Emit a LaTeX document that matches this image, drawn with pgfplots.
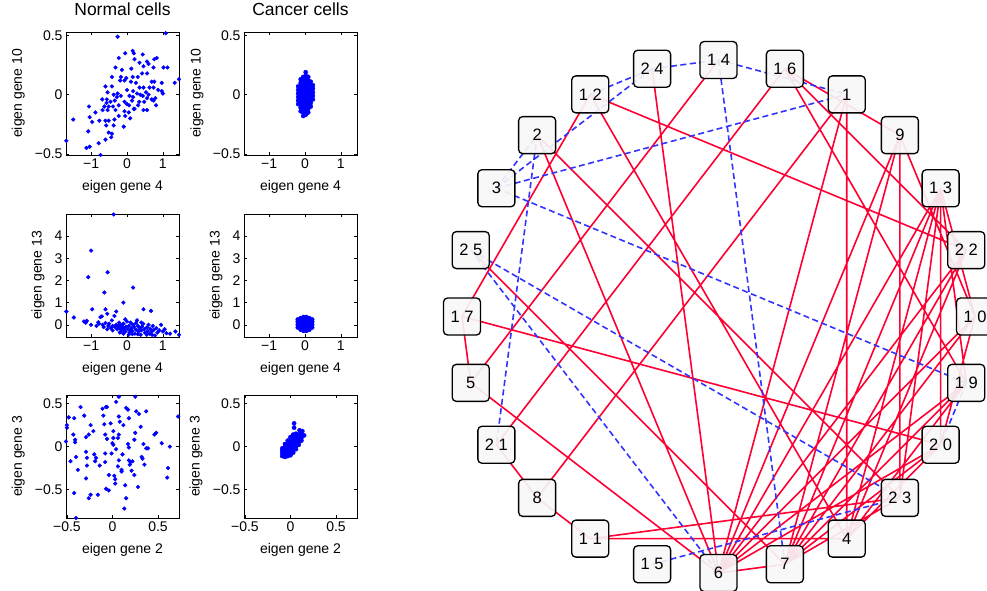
\documentclass[border=0pt]{standalone}
\usepackage{fontspec}
\setmainfont{Liberation Sans}
\usepackage{pgfplots}
\usepackage{pgfplotstable}
\pgfplotsset{compat=1.18}
\definecolor{redE}{RGB}{255,0,51}
\definecolor{blueE}{RGB}{51,51,255}
\definecolor{dotblue}{RGB}{0,0,255}
\pgfplotsset{
  sc/.style={
    scale only axis, width=113pt, height=123pt,
    axis line style={line width=0.8pt},
    tick style={black, line width=0.6pt},
    major tick length=3pt,
    tick align=inside,
    tick label style={font=\fontsize{14}{14}\selectfont},
    label style={font=\fontsize{14}{14}\selectfont},
    xlabel style={at={(axis description cs:0.5,-0.258)}, anchor=center},
    title style={font=\fontsize{17.5}{18}\selectfont, at={(axis description cs:0.5,1.138)}, anchor=center},
  },
  rowA/.style={sc, xmin=-1.7, xmax=1.45, ymin=-0.51, ymax=0.53,
    xtick={-1,0,1}, xticklabels={−1,0,1}, ytick={-0.5,0,0.5}, yticklabels={−0.5,0,0.5},
    xlabel={eigen gene 4}, ylabel={eigen gene 10}},
  rowB/.style={sc, xmin=-1.7, xmax=1.45, ymin=-0.55, ymax=5.0,
    xtick={-1,0,1}, xticklabels={−1,0,1}, ytick={0,1,2,3,4}, yticklabels={0,1,2,3,4},
    xlabel={eigen gene 4}, ylabel={eigen gene 13}},
  rowC/.style={sc, xmin=-0.51, xmax=0.73, ymin=-0.83, ymax=0.6,
    xtick={-0.5,0,0.5}, xticklabels={−0.5,0,0.5}, ytick={-0.5,0,0.5}, yticklabels={−0.5,0,0.5},
    xlabel={eigen gene 2}, ylabel={eigen gene 3}},
  dots/.style={only marks, mark=*, mark size=1.9pt, color=dotblue},
  blob/.style={only marks, mark=*, mark size=2.1pt, color=dotblue},
}

\pgfplotstableread{
x y
-0.26 0.49
1.08 0.52
-0.05 0.35
0.19 0.35
0.16 0.37
0.44 0.34
-0.23 0.31
0.21 0.30
0.35 0.27
0.56 0.28
0.60 0.26
0.76 0.30
0.83 0.31
-0.32 0.23
-0.14 0.21
0.12 0.22
0.46 0.24
0.74 0.23
1.02 0.23
1.13 0.23
-0.42 0.15
-0.17 0.15
-0.02 0.14
0.16 0.15
0.30 0.15
0.42 0.18
0.56 0.18
0.69 0.11
0.76 0.11
0.97 0.10
1.33 0.10
1.45 0.13
-0.60 0.07
-0.42 0.07
-0.19 0.12
-0.07 0.12
0.11 0.11
0.25 0.10
0.35 0.06
0.46 0.06
0.63 0.06
0.74 0.06
0.87 0.04
-0.54 0.02
-0.37 0.00
-0.26 0.01
0.00 0.04
0.17 0.03
0.28 0.01
0.37 0.00
0.53 0.02
0.60 0.00
0.97 0.03
1.00 0.01
-0.69 -0.04
-0.56 -0.04
-0.28 -0.02
-0.17 -0.01
0.07 -0.01
0.17 -0.02
0.44 -0.01
0.56 -0.03
0.69 -0.04
0.79 -0.03
-0.57 -0.07
-0.46 -0.06
-0.34 -0.05
-0.07 -0.06
0.00 -0.08
0.14 -0.05
0.34 -0.06
0.48 -0.06
0.74 -0.05
-1.06 -0.10
-0.63 -0.10
-0.51 -0.10
-0.39 -0.10
-0.23 -0.09
0.06 -0.09
0.21 -0.12
0.31 -0.09
0.46 -0.13
0.56 -0.13
0.81 -0.09
-0.88 -0.15
-0.68 -0.13
-0.54 -0.13
-0.32 -0.13
-0.07 -0.14
0.05 -0.15
0.19 -0.12
-1.50 -0.21
-1.04 -0.19
-0.97 -0.23
-0.77 -0.22
-0.60 -0.22
-0.51 -0.22
-0.35 -0.21
-0.05 -0.18
0.09 -0.20
-0.23 -0.18
-1.08 -0.31
-0.58 -0.26
-0.37 -0.26
-0.09 -0.27
-0.51 -0.32
-0.42 -0.33
-0.44 -0.36
-1.69 -0.39
-0.79 -0.41
-0.60 -0.38
-1.13 -0.45
-1.04 -0.44
-0.74 -0.51
}\normA

\pgfplotstableread{
x y
-0.37 4.98
-1.00 3.35
-1.08 2.15
-0.54 2.37
-0.63 1.46
0.17 1.68
-0.10 1.00
-1.69 0.60
-1.48 0.33
-0.97 0.70
-0.60 0.70
-0.30 0.60
0.46 0.70
0.67 0.63
-1.20 0.15
-1.15 0.10
-1.12 0.18
-1.00 0.00
-0.80 0.12
-0.78 0.05
-0.74 0.35
-0.70 0.38
-0.68 0.00
-0.65 -0.10
-0.60 0.08
-0.55 0.50
-0.52 -0.05
-0.50 0.05
-0.45 -0.15
-0.42 0.20
-0.40 -0.05
-0.35 0.40
-0.33 -0.10
-0.30 0.00
-0.27 -0.20
-0.25 -0.05
-0.22 0.10
-0.20 -0.15
-0.17 -0.02
-0.15 -0.25
-0.12 -0.10
-0.10 0.05
-0.08 -0.18
-0.05 -0.30
-0.03 -0.08
0.00 0.15
0.02 -0.20
0.05 -0.05
0.07 -0.35
0.10 0.10
0.12 -0.15
0.15 -0.28
0.17 0.00
0.20 -0.10
0.22 -0.40
0.25 -0.22
0.28 0.20
0.30 -0.05
0.32 -0.30
0.35 -0.15
0.38 -0.45
0.40 -0.25
0.42 -0.08
0.45 0.05
0.48 -0.20
0.50 -0.35
0.55 -0.12
0.58 -0.28
0.60 0.00
0.63 -0.40
0.65 -0.18
0.70 -0.30
0.72 -0.05
0.75 -0.22
0.78 -0.48
0.82 -0.15
0.85 -0.35
0.90 -0.25
0.95 0.00
1.00 -0.30
1.05 -0.20
1.10 -0.38
1.20 -0.40
1.35 -0.30
1.45 -0.45
-0.20 -0.35
-0.10 -0.40
0.05 -0.45
0.15 -0.42
0.30 -0.42
0.55 -0.45
0.70 -0.45
-0.40 -0.25
-0.55 -0.20
-0.85 -0.05
0.40 0.10
0.10 -0.25
-0.05 0.25
0.25 0.08
}\normB

\pgfplotstableread{
x y
-0.51 0.06
-0.50 0.22
-0.50 0.25
-0.48 0.34
-0.42 0.33
-0.46 -0.17
-0.43 0.14
-0.41 0.08
-0.41 0.05
-0.40 -0.12
-0.38 -0.27
-0.35 0.46
-0.42 -0.54
-0.40 -0.83
-0.31 0.36
-0.29 0.11
-0.29 -0.06
-0.28 -0.13
-0.29 -0.37
-0.28 -0.22
-0.26 0.14
-0.24 0.25
-0.26 -0.60
-0.24 -0.56
-0.21 0.18
-0.20 -0.09
-0.19 -0.17
-0.18 -0.13
-0.16 -0.56
-0.14 -0.22
-0.11 0.44
-0.10 0.36
-0.09 0.26
-0.08 0.14
-0.08 -0.08
-0.08 -0.18
-0.07 0.46
-0.06 0.46
-0.07 -0.49
-0.06 0.09
-0.04 -0.33
-0.04 -0.51
-0.02 0.27
-0.01 -0.08
0.00 0.04
0.01 0.18
0.01 0.02
0.01 0.10
0.02 -0.34
0.03 -0.38
0.03 -0.43
0.04 0.52
0.04 -0.03
0.06 -0.23
0.07 0.58
0.06 0.10
0.07 0.35
0.07 0.14
0.07 -0.16
0.08 0.29
0.10 -0.27
0.10 -0.29
0.11 -0.09
0.12 0.25
0.13 -0.72
0.14 -0.45
0.15 -0.60
0.15 0.45
0.17 0.03
0.17 0.43
0.18 -0.01
0.18 -0.16
0.18 0.33
0.19 -0.21
0.20 -0.18
0.21 -0.28
0.22 -0.17
0.24 0.08
0.24 -0.33
0.25 0.16
0.26 0.41
0.28 -0.47
0.29 0.38
0.31 0.23
0.32 -0.12
0.33 -0.14
0.34 0.03
0.35 -0.21
0.37 0.41
0.37 -0.02
0.39 -0.02
0.46 0.14
0.48 0.16
0.54 0.04
0.61 -0.25
0.60 -0.36
0.63 0.00
0.72 0.35
0.25 0.58
}\normC

\pgfplotstableread{
x y lab
0 1 {1 4}
0.2588 0.9659 {1 6}
0.5 0.8660 1
0.7071 0.7071 9
0.8660 0.5 {1 3}
0.9659 0.2588 {2 2}
1 0 {1 0}
0.9659 -0.2588 {1 9}
0.8660 -0.5 {2 0}
0.7071 -0.7071 {2 3}
0.5 -0.8660 4
0.2588 -0.9659 7
0 -1 6
-0.2588 -0.9659 {1 5}
-0.5 -0.8660 {1 1}
-0.7071 -0.7071 8
-0.8660 -0.5 {2 1}
-0.9659 -0.2588 5
-1 0 {1 7}
-0.9659 0.2588 {2 5}
-0.8660 0.5 3
-0.7071 0.7071 2
-0.5 0.8660 {1 2}
-0.2588 0.9659 {2 4}
}\nodetab

\begin{document}
\begin{tikzpicture}
\path[use as bounding box] (0,0) rectangle (987pt,590pt);

% Row 1
\begin{axis}[rowA, at={(66pt,558pt)}, anchor=north west, title={Normal cells},
  ylabel style={at={(axis description cs:-0.422,0.5)}, anchor=center}]
\addplot[dots] table {\normA};
\end{axis}
\begin{axis}[rowA, at={(244pt,558pt)}, anchor=north west, title={Cancer cells},
  ylabel style={at={(axis description cs:-0.416,0.5)}, anchor=center}]
\addplot[blob] coordinates {
(-0.19,-0.08)(-0.19,-0.05)(-0.19,-0.02)(-0.19,0.01)(-0.19,0.04)(-0.19,0.07)
(-0.12,-0.14)(-0.12,-0.11)(-0.12,-0.08)(-0.12,-0.05)(-0.12,-0.02)(-0.12,0.01)(-0.12,0.04)(-0.12,0.07)(-0.12,0.10)(-0.12,0.13)
(-0.05,-0.18)(-0.05,-0.15)(-0.05,-0.12)(-0.05,-0.09)(-0.05,-0.06)(-0.05,-0.03)(-0.05,0.00)(-0.05,0.03)(-0.05,0.06)(-0.05,0.09)(-0.05,0.12)(-0.05,0.15)
(0.02,-0.17)(0.02,-0.14)(0.02,-0.11)(0.02,-0.08)(0.02,-0.05)(0.02,-0.02)(0.02,0.01)(0.02,0.04)(0.02,0.07)(0.02,0.10)(0.02,0.13)(0.02,0.16)(0.02,0.19)
(0.09,-0.15)(0.09,-0.12)(0.09,-0.09)(0.09,-0.06)(0.09,-0.03)(0.09,0.00)(0.09,0.03)(0.09,0.06)(0.09,0.09)(0.09,0.12)(0.09,0.15)
(0.16,-0.10)(0.16,-0.07)(0.16,-0.04)(0.16,-0.01)(0.16,0.02)(0.16,0.05)(0.16,0.08)(0.16,0.11)
(0.22,-0.04)(0.22,-0.01)(0.22,0.02)(0.22,0.05)(0.22,0.08)
};
\end{axis}

% Row 2
\begin{axis}[rowB, at={(66pt,376pt)}, anchor=north west,
  ylabel style={at={(axis description cs:-0.248,0.5)}, anchor=center}]
\addplot[dots] table {\normB};
\end{axis}
\begin{axis}[rowB, at={(244pt,376pt)}, anchor=north west,
  ylabel style={at={(axis description cs:-0.248,0.5)}, anchor=center}]
\addplot[blob] coordinates {
(-0.20,-0.12)(-0.20,0.01)(-0.20,0.14)(-0.20,0.24)
(-0.12,-0.22)(-0.12,-0.09)(-0.12,0.04)(-0.12,0.17)(-0.12,0.30)
(-0.04,-0.27)(-0.04,-0.14)(-0.04,-0.01)(-0.04,0.12)(-0.04,0.25)(-0.04,0.35)
(0.04,-0.27)(0.04,-0.14)(0.04,-0.01)(0.04,0.12)(0.04,0.25)(0.04,0.35)
(0.12,-0.22)(0.12,-0.09)(0.12,0.04)(0.12,0.17)(0.12,0.30)
(0.20,-0.12)(0.20,0.01)(0.20,0.14)(0.20,0.24)
};
\end{axis}

% Row 3
\begin{axis}[rowC, at={(66pt,195pt)}, anchor=north west,
  ylabel style={at={(axis description cs:-0.422,0.5)}, anchor=center}]
\addplot[dots] table {\normC};
\end{axis}
\begin{axis}[rowC, at={(244pt,195pt)}, anchor=north west,
  ylabel style={at={(axis description cs:-0.425,0.5)}, anchor=center}]
\addplot[blob] coordinates {
(-0.09,-0.11)(-0.09,-0.08)(-0.09,-0.05)(-0.09,-0.02)
(-0.06,-0.12)(-0.06,-0.09)(-0.06,-0.06)(-0.06,-0.03)(-0.06,0.00)(-0.06,0.03)
(-0.03,-0.11)(-0.03,-0.08)(-0.03,-0.05)(-0.03,-0.02)(-0.03,0.01)(-0.03,0.04)(-0.03,0.07)
(0.00,-0.10)(0.00,-0.07)(0.00,-0.04)(0.00,-0.01)(0.00,0.02)(0.00,0.05)(0.00,0.08)(0.00,0.11)
(0.03,-0.07)(0.03,-0.04)(0.03,-0.01)(0.03,0.02)(0.03,0.05)(0.03,0.08)(0.03,0.11)(0.03,0.14)
(0.06,-0.03)(0.06,0.00)(0.06,0.03)(0.06,0.06)(0.06,0.09)(0.06,0.12)(0.06,0.15)
(0.09,0.02)(0.09,0.05)(0.09,0.08)(0.09,0.11)(0.09,0.14)
(0.12,0.07)(0.12,0.10)(0.12,0.13)(0.12,0.16)
(0.04,0.27)(0.04,0.22)(0.15,0.13)(0.10,0.19)(0.13,0.18)
};
\end{axis}

% Network
\begin{axis}[at={(718.5pt,273.5pt)}, anchor=center, scale only axis,
  width=615.6pt, height=615.6pt, xmin=-1.2, xmax=1.2, ymin=-1.2, ymax=1.2,
  hide axis, clip=false, unbounded coords=jump]
\addplot[redE, line width=1.6pt] table {
x y
-0.5 0.8660
-1 0
nan nan
-1 0
-0.9659 -0.2588
nan nan
-1 0
0.8660 -0.5
nan nan
0 1
-0.9659 -0.2588
nan nan
-0.9659 -0.2588
0 -1
nan nan
0.2588 0.9659
-0.8660 -0.5
nan nan
-0.8660 -0.5
-0.7071 -0.7071
nan nan
0.5 0.8660
-0.7071 -0.7071
nan nan
-0.7071 -0.7071
-0.5 -0.8660
nan nan
-0.9659 0.2588
0.2588 -0.9659
nan nan
-0.7071 0.7071
0 -1
nan nan
-0.2588 0.9659
0 -1
nan nan
-0.5 0.8660
0.9659 0.2588
nan nan
-0.5 0.8660
0.5 -0.8660
nan nan
-0.7071 0.7071
0.7071 -0.7071
nan nan
0.2588 0.9659
0.7071 0.7071
nan nan
0.2588 0.9659
0.9659 -0.2588
nan nan
0.2588 0.9659
0.9659 0.2588
nan nan
0.5 0.8660
0 -1
nan nan
0.5 0.8660
0.5 -0.8660
nan nan
0.7071 0.7071
0 -1
nan nan
0.7071 0.7071
0.2588 -0.9659
nan nan
0.7071 0.7071
0.7071 -0.7071
nan nan
0.7071 0.7071
1 0
nan nan
-0.5 -0.8660
0.5 -0.8660
nan nan
-0.5 -0.8660
0.7071 -0.7071
nan nan
0 -1
0.2588 -0.9659
nan nan
0 -1
0.8660 0.5
nan nan
0 -1
0.9659 0.2588
nan nan
0 -1
1 0
nan nan
0 -1
0.9659 -0.2588
nan nan
0 -1
0.8660 -0.5
nan nan
0.2588 -0.9659
0.8660 0.5
nan nan
0.2588 -0.9659
0.9659 0.2588
nan nan
0.2588 -0.9659
1 0
nan nan
0.2588 -0.9659
0.9659 -0.2588
nan nan
0.2588 -0.9659
0.8660 -0.5
nan nan
0.2588 -0.9659
0.7071 -0.7071
nan nan
0.5 -0.8660
0.8660 0.5
nan nan
0.5 -0.8660
0.9659 0.2588
nan nan
0.5 -0.8660
0.9659 -0.2588
nan nan
0.5 -0.8660
0.8660 -0.5
nan nan
0.8660 0.5
1 0
nan nan
0.8660 0.5
0.9659 -0.2588
nan nan
0.8660 0.5
0.8660 -0.5
nan nan
0.8660 0.5
0.7071 -0.7071
nan nan
1 0
0.8660 -0.5
};
\addplot[blueE, line width=1.6pt, dash pattern=on 6pt off 3.5pt] table {
x y
-0.5 0.8660
-0.2588 0.9659
nan nan
-0.2588 0.9659
0 1
nan nan
0 1
0.5 0.8660
nan nan
-0.8660 0.5
-0.2588 0.9659
nan nan
-0.8660 0.5
-0.7071 0.7071
nan nan
-0.7071 0.7071
-0.8660 -0.5
nan nan
-0.8660 0.5
0.5 0.8660
nan nan
-0.8660 0.5
0.9659 -0.2588
nan nan
-0.9659 0.2588
0.7071 -0.7071
nan nan
-0.9659 0.2588
0 -1
nan nan
-0.2588 -0.9659
0.7071 -0.7071
nan nan
0 1
0.2588 -0.9659
nan nan
0.9659 -0.2588
0.8660 -0.5
};
\addplot[only marks, mark=none, nodes near coords, point meta=explicit symbolic,
  every node near coord/.append style={anchor=center, draw=black, line width=1.3pt,
    fill=gray!6, fill opacity=0.92, text opacity=1, draw opacity=1, rounded corners=4pt,
    minimum width=37pt, minimum height=37pt, inner sep=0pt, text=black,
    font=\fontsize{16.5}{16.5}\selectfont}]
  table[meta=lab] {\nodetab};
\end{axis}
\end{tikzpicture}
\end{document}
